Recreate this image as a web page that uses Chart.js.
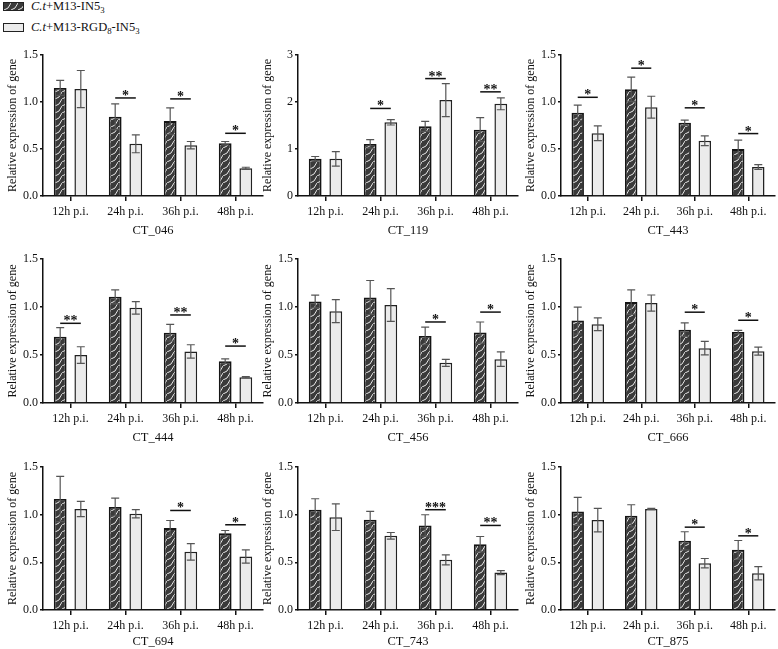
<!DOCTYPE html>
<html>
<head>
<meta charset="utf-8">
<script src="https://cdn.jsdelivr.net/npm/chart.js@4.4.0/dist/chart.umd.min.js"></script>
<style>
  html, body { margin: 0; padding: 0; background: #fff; overflow: hidden; }
  body { width: 778px; height: 649px; position: relative; font-family: 'Liberation Serif', 'Times New Roman', serif; color: #111; }
  canvas.panel { position: absolute; }
  .legend-item { position: absolute; left: 3px; height: 20px; display: flex; align-items: center; font-size: 12.5px; white-space: nowrap; }
  .swatch { width: 21px; height: 9px; border: 1.5px solid #222; box-sizing: border-box; margin-right: 7px; }
  sub { font-size: 0.7em; vertical-align: -3px; line-height: 0; }
</style>
</head>
<body>
<div class="legend-item" style="top:-4px"><span class="swatch" id="swDark"></span><span><i>C.t</i>+M13-IN5<sub>3</sub></span></div>
<div class="legend-item" style="top:17px"><span class="swatch" style="background:#ebebeb"></span><span><i>C.t</i>+M13-RGD<sub>8</sub>-IN5<sub>3</sub></span></div>

<script>
const timePoints = ['12h p.i.', '24h p.i.', '36h p.i.', '48h p.i.'];
const genes = ['CT_046', 'CT_119', 'CT_443', 'CT_444', 'CT_456', 'CT_666', 'CT_694', 'CT_743', 'CT_875'];
const seriesNames = ['C.t+M13-IN5₃', 'C.t+M13-RGD₈-IN5₃'];

// mean and SD, one row per gene, columns follow timePoints
const meanIN5 = [
    [1.15, 0.843, 0.797, 0.562],
    [0.79, 1.108, 1.482, 1.411],
    [0.885, 1.135, 0.78, 0.499],
    [0.691, 1.106, 0.733, 0.436],
    [1.057, 1.099, 0.699, 0.734],
    [0.859, 1.051, 0.764, 0.74],
    [1.164, 1.08, 0.859, 0.806],
    [1.052, 0.946, 0.887, 0.69],
    [1.034, 0.988, 0.726, 0.631]
];
const errIN5 = [
    [0.08, 0.137, 0.14, 0.018],
    [0.05, 0.09, 0.106, 0.255],
    [0.081, 0.13, 0.028, 0.095],
    [0.094, 0.073, 0.087, 0.024],
    [0.067, 0.177, 0.092, 0.11],
    [0.14, 0.127, 0.07, 0.017],
    [0.238, 0.094, 0.08, 0.028],
    [0.115, 0.088, 0.112, 0.081],
    [0.147, 0.116, 0.095, 0.098]
];
const meanRGD = [
    [1.138, 0.555, 0.541, 0.295],
    [0.79, 1.567, 2.04, 1.962],
    [0.667, 0.945, 0.587, 0.309],
    [0.499, 0.991, 0.537, 0.269],
    [0.957, 1.021, 0.418, 0.457],
    [0.82, 1.041, 0.571, 0.54],
    [1.059, 1.009, 0.61, 0.561],
    [0.974, 0.778, 0.526, 0.393],
    [0.943, 1.059, 0.491, 0.386]
];
const errRGD = [
    [0.197, 0.095, 0.039, 0.011],
    [0.156, 0.056, 0.35, 0.127],
    [0.078, 0.116, 0.052, 0.025],
    [0.087, 0.066, 0.07, 0.007],
    [0.12, 0.17, 0.036, 0.075],
    [0.067, 0.084, 0.07, 0.042],
    [0.08, 0.043, 0.087, 0.07],
    [0.14, 0.035, 0.052, 0.021],
    [0.123, 0.007, 0.049, 0.07]
];

// significance stars and the height of their bracket line
const sigMarks = [
    ['', '*', '*', '*'],
    ['', '*', '**', '**'],
    ['*', '*', '*', '*'],
    ['**', '', '**', '*'],
    ['', '', '*', '*'],
    ['', '', '*', '*'],
    ['', '', '*', '*'],
    ['', '', '***', '**'],
    ['', '', '*', '*']
];
const sigHeights = [
    [null, 1.043, 1.033, 0.667],
    [null, 1.863, 2.498, 2.216],
    [1.05, 1.36, 0.938, 0.664],
    [0.83, null, 0.917, 0.593],
    [null, null, 0.844, 0.947],
    [null, null, 0.946, 0.862],
    [null, null, 1.044, 0.894],
    [null, null, 1.052, 0.887],
    [null, null, 0.869, 0.778]
];

const yMax = [1.5, 3, 1.5, 1.5, 1.5, 1.5, 1.5, 1.5, 1.5];
const yStep = [0.5, 1, 0.5, 0.5, 0.5, 0.5, 0.5, 0.5, 0.5];

// panel placement
const colLeft = [43, 298, 561];
const colWidth = [220, 220, 214];
const rowTop = [55, 259, 467];
const rowHeight = [141, 144, 143];
const xAxisH = [42, 42, 39];
const Y_AXIS_W = 44, PAD_TOP = 12, PAD_RIGHT = 3;

const FONT = "'Liberation Serif', 'Times New Roman', serif";

function makeTile() {
    const c = document.createElement('canvas');
    c.width = 7; c.height = 7;
    const g = c.getContext('2d');
    g.fillStyle = '#3a3a3a';
    g.fillRect(0, 0, 7, 7);
    g.strokeStyle = '#e6e6e6';
    g.lineWidth = 1;
    g.beginPath();
    g.moveTo(0, 7); g.lineTo(4, 5); g.lineTo(7, 0);
    g.stroke();
    return c;
}

const tile = makeTile();
document.getElementById('swDark').style.background = 'url(' + tile.toDataURL() + ')';

const errorBarPlugin = {
    id: 'errorBars',
    afterDatasetsDraw(chart) {
        const ctx = chart.ctx;
        const yScale = chart.scales.y;
        chart.data.datasets.forEach((ds, i) => {
            const meta = chart.getDatasetMeta(i);
            meta.data.forEach((bar, j) => {
                const m = ds.data[j], e = ds.errors[j];
                const top = yScale.getPixelForValue(m + e);
                const bot = yScale.getPixelForValue(m - e);
                ctx.save();
                ctx.strokeStyle = '#555';
                ctx.lineWidth = 1.2;
                ctx.beginPath();
                ctx.moveTo(bar.x, top); ctx.lineTo(bar.x, bot);
                ctx.moveTo(bar.x - 4, top); ctx.lineTo(bar.x + 4, top);
                ctx.moveTo(bar.x - 4, bot); ctx.lineTo(bar.x + 4, bot);
                ctx.stroke();
                ctx.restore();
            });
        });
    }
};

const significancePlugin = {
    id: 'significance',
    afterDatasetsDraw(chart, args, opts) {
        const ctx = chart.ctx;
        const yScale = chart.scales.y;
        const a = chart.getDatasetMeta(0).data;
        const b = chart.getDatasetMeta(1).data;
        opts.marks.forEach((mark, j) => {
            if (!mark) return;
            const y = yScale.getPixelForValue(opts.heights[j]);
            ctx.save();
            ctx.strokeStyle = '#111';
            ctx.lineWidth = 1.5;
            ctx.beginPath();
            ctx.moveTo(a[j].x, y); ctx.lineTo(b[j].x, y);
            ctx.stroke();
            ctx.fillStyle = '#111';
            ctx.font = 'bold 14px ' + FONT;
            ctx.textAlign = 'center';
            ctx.textBaseline = 'alphabetic';
            ctx.fillText(mark, (a[j].x + b[j].x) / 2, y + 2);
            ctx.restore();
        });
    }
};

genes.forEach((gene, k) => {
    const col = k % 3, row = Math.floor(k / 3);
    const canvas = document.createElement('canvas');
    canvas.className = 'panel';
    const w = Y_AXIS_W + colWidth[col] + PAD_RIGHT;
    const h = PAD_TOP + rowHeight[row] + xAxisH[row];
    canvas.width = w; canvas.height = h;
    canvas.style.left = (colLeft[col] - Y_AXIS_W) + 'px';
    canvas.style.top = (rowTop[row] - PAD_TOP) + 'px';
    document.body.appendChild(canvas);

    const decimals = yStep[k] < 1 ? 1 : 0;

    new Chart(canvas.getContext('2d'), {
        type: 'bar',
        data: {
            labels: timePoints,
            datasets: [{
                label: seriesNames[0],
                data: meanIN5[k],
                errors: errIN5[k],
                backgroundColor: ctx => ctx.chart.ctx.createPattern(tile, 'repeat'),
                borderColor: '#151515',
                borderWidth: 1.8,
                categoryPercentage: 0.75,
                barPercentage: 0.62
            }, {
                label: seriesNames[1],
                data: meanRGD[k],
                errors: errRGD[k],
                backgroundColor: '#ebebeb',
                borderColor: '#222',
                borderWidth: 1.5,
                categoryPercentage: 0.75,
                barPercentage: 0.62
            }]
        },
        options: {
            responsive: false,
            animation: false,
            layout: { padding: { top: PAD_TOP, right: PAD_RIGHT, left: 0, bottom: 0 } },
            plugins: {
                legend: { display: false },
                tooltip: { enabled: false },
                significance: { marks: sigMarks[k], heights: sigHeights[k] }
            },
            scales: {
                x: {
                    afterFit: s => { s.height = xAxisH[row]; },
                    grid: { display: true, drawOnChartArea: false, offset: false, tickLength: 5, color: '#111', lineWidth: 1.5 },
                    border: { display: true, color: '#111', width: 1.5 },
                    ticks: { color: '#111', font: { family: FONT, size: 12 }, padding: 4, maxRotation: 0, autoSkip: false },
                    title: { display: true, text: gene, color: '#111', font: { family: FONT, size: 12.5 }, padding: { top: 0, bottom: 0 } }
                },
                y: {
                    min: 0,
                    max: yMax[k],
                    afterFit: s => { s.width = Y_AXIS_W; },
                    grid: { display: true, drawOnChartArea: false, tickLength: 3, color: '#111', lineWidth: 1.5 },
                    border: { display: true, color: '#111', width: 1.5 },
                    ticks: {
                        stepSize: yStep[k],
                        color: '#111',
                        padding: 2,
                        font: { family: FONT, size: 12 },
                        callback: v => Number(v).toFixed(decimals)
                    },
                    title: { display: true, text: 'Relative expression of gene', color: '#111', font: { family: FONT, size: 12 }, padding: { top: 7, bottom: 0 } }
                }
            }
        },
        plugins: [errorBarPlugin, significancePlugin]
    });
});
</script>
</body>
</html>
